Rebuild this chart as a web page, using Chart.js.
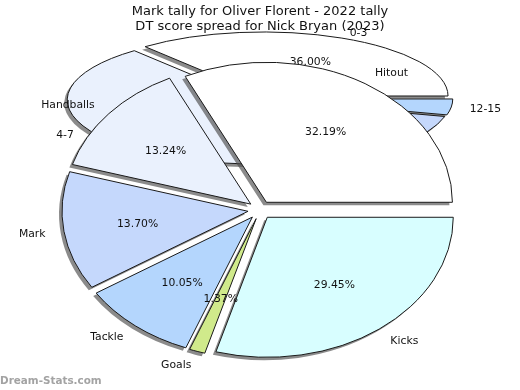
<!DOCTYPE html>
<html>
<head>
<meta charset="utf-8">
<script src="https://cdn.jsdelivr.net/npm/chart.js@4/dist/chart.umd.min.js"></script>
<style>
    body { margin: 0; background: #fff; }
    #wrap { position: relative; width: 520px; height: 390px; }
    #wrap canvas { position: absolute; left: 0; top: 0; }
</style>
</head>
<body>
<div id="wrap">
    <canvas id="backPie" width="520" height="390"></canvas>
    <canvas id="frontPie" width="520" height="390"></canvas>
</div>
<script>
// ----- DATA ----- //
const titleLines = ['Mark tally for Oliver Florent - 2022 tally', 'DT score spread for Nick Bryan (2023)'];

// back pie: games per DT score band (counter-clockwise from 3 o'clock)
const bandLabels = ['0-3', '4-7', '8-11', '12-15'];
const bandGames = [9, 11, 4, 1];
const bandColors = ['#ffffff', '#eaf1fd', '#c5d8fc', '#b4d6fd'];

// front pie: DT points by stat (counter-clockwise from 3 o'clock)
const statLabels = ['Hitout', 'Handballs', 'Mark', 'Tackle', 'Goals', 'Kicks'];
const statPoints = [141, 58, 60, 44, 6, 129];
const statColors = ['#ffffff', '#eaf1fd', '#c5d8fc', '#b4d6fd', '#d0ea8b', '#d8feff'];

const labelFont = '10.8px "DejaVu Sans"';

// Chart.js goes clockwise, the original goes counter-clockwise
const rev = arr => arr.slice().reverse();

// squash the round pie into an ellipse, explode the slices and add a shadow
const ellipsePie = {
    id: 'ellipsePie',
    beforeDatasetsDraw(chart, args, opts) {
        const ctx = chart.ctx;
        const area = chart.chartArea;
        const cx = (area.left + area.right) / 2;
        const cy = (area.top + area.bottom) / 2;
        const base = ctx.getTransform();
        chart.getDatasetMeta(0).data.forEach(arc => {
            arc._home = [arc.x, arc.y];
            const mid = (arc.startAngle + arc.endAngle) / 2;
            arc.x += Math.cos(mid) * opts.explode * arc.outerRadius;
            arc.y += Math.sin(mid) * opts.explode * arc.outerRadius;
        });
        ctx.save();
        ctx.translate(cx, cy);
        ctx.scale(opts.stretch, 1);
        ctx.translate(-cx, -cy);
        ctx.shadowColor = 'rgba(77,77,77,0.65)';
        ctx.shadowOffsetX = -3;
        ctx.shadowOffsetY = 3;
        ctx.shadowBlur = 0;
        // keep outlines 1px wide and without shadow
        const stroke = ctx.stroke;
        ctx.stroke = function() {
            this.save();
            this.setTransform(base);
            this.shadowColor = 'rgba(0,0,0,0)';
            stroke.apply(this, arguments);
            this.restore();
        };
    },
    afterDatasetsDraw(chart, args, opts) {
        const ctx = chart.ctx;
        ctx.restore();
        delete ctx.stroke;
        const area = chart.chartArea;
        const cx = (area.left + area.right) / 2;
        const meta = chart.getDatasetMeta(0);
        const total = meta.total;
        const values = chart.data.datasets[0].data;
        const names = chart.data.labels;
        ctx.save();
        ctx.font = labelFont;
        ctx.fillStyle = '#111';
        ctx.textBaseline = 'middle';
        meta.data.forEach((arc, i) => {
            const mid = (arc.startAngle + arc.endAngle) / 2;
            const R = arc.outerRadius;
            const at = f => [cx + (arc.x - cx + Math.cos(mid) * f * R) * opts.stretch, arc.y + Math.sin(mid) * f * R + 1];
            const [lx, ly] = at(1.1);
            ctx.textAlign = lx > cx ? 'left' : 'right';
            ctx.fillText(names[i], lx, ly);
            const [px, py] = at(0.6);
            ctx.textAlign = 'center';
            ctx.fillText((values[i] / total * 100).toFixed(2) + '%', px, py);
            arc.x = arc._home[0];
            arc.y = arc._home[1];
        });
        ctx.restore();
    }
};

// title and watermark on top
const decorations = {
    id: 'decorations',
    afterDraw(chart) {
        const ctx = chart.ctx;
        ctx.save();
        ctx.fillStyle = '#111';
        ctx.font = '13px "DejaVu Sans"';
        ctx.textAlign = 'center';
        ctx.textBaseline = 'alphabetic';
        ctx.fillText(titleLines[0], 260, 14.5);
        ctx.fillText(titleLines[1], 260, 29.5);
        ctx.fillStyle = '#a3a3a3';
        ctx.font = 'bold 10.4px "DejaVu Sans"';
        ctx.textAlign = 'left';
        ctx.fillText('Dream-Stats.com', 0, 384);
        ctx.restore();
    }
};

function makePie(canvasId, labels, values, colors, radius, padding, stretch, explode, extra) {
    return new Chart(document.getElementById(canvasId), {
        type: 'pie',
        data: {
            labels: rev(labels),
            datasets: [{
                data: rev(values),
                backgroundColor: rev(colors),
                borderColor: '#1a1a1a',
                borderWidth: 1,
                clip: false
            }]
        },
        options: {
            responsive: false,
            devicePixelRatio: 1,
            animation: false,
            rotation: 90,
            radius: radius,
            layout: { padding: padding },
            events: [],
            plugins: {
                legend: { display: false },
                tooltip: { enabled: false },
                ellipsePie: { stretch: stretch, explode: explode }
            }
        },
        plugins: [ellipsePie].concat(extra)
    });
}

// back pie: centre (259.5, 98.6), 185 x 64
makePie('backPie', bandLabels, bandGames, bandColors, 64,
    { left: 0, right: 1, top: 0, bottom: 192.8 }, 185 / 64, 0.045, []);

// front pie: centre (260, 210), 186 x 140
makePie('frontPie', statLabels, statPoints, statColors, 140,
    { left: 0, right: 0, top: 30, bottom: 0 }, 186 / 140, 0.065, [decorations]);
</script>
</body>
</html>
